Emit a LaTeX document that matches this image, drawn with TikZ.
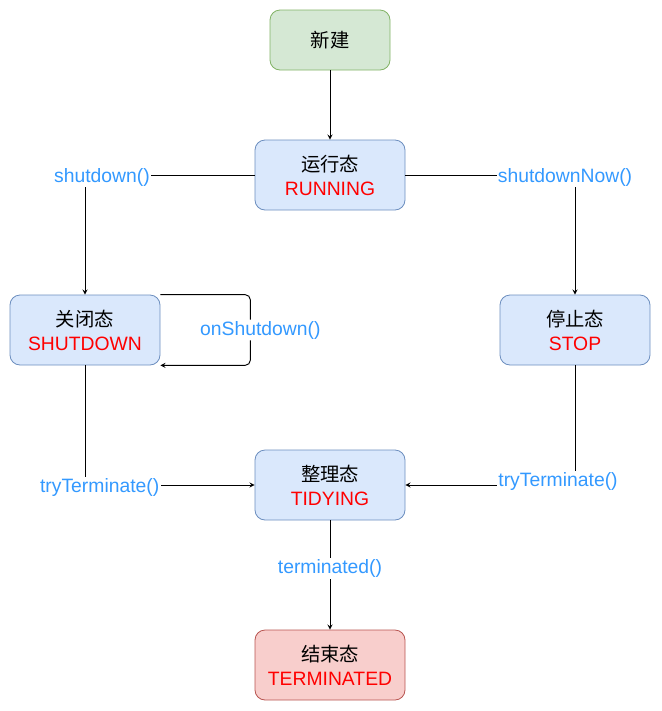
\documentclass[tikz,border=0pt]{standalone}
\usepackage{xcolor}
\usepackage{fontspec}
\setmainfont{Liberation Sans}
\newfontfamily\cjk{Noto Sans CJK SC}
\usepackage{tikz}
\usetikzlibrary{arrows,positioning,calc}

\definecolor{greenfill}{HTML}{D5E8D4}
\definecolor{greenline}{HTML}{82B366}
\definecolor{bluefill}{HTML}{DAE8FC}
\definecolor{blueline}{HTML}{6C8EBF}
\definecolor{redfill}{HTML}{F8CECC}
\definecolor{redline}{HTML}{B85450}
\definecolor{lblblue}{HTML}{3399FF}

\tikzset{
	state/.style={draw=blueline,fill=bluefill,line width=0.6pt,rounded corners=7.5pt,minimum width=112.5pt,minimum height=52.5pt,align=center,font=\fontsize{14.5}{18}\selectfont},
	flow/.style={-stealth,line width=0.7pt,black},
	lbl/.style={fill=white,inner sep=1pt,text=lblblue,font=\fontsize{14.5}{18}\selectfont}
}

\begin{document}
\begin{tikzpicture}[x=0.75pt,y=-0.75pt]
	\useasboundingbox (0,0) rectangle (661,711);
	\node[state,draw=greenline,fill=greenfill,minimum width=90pt,minimum height=45pt] (new) at (330,40) {\cjk 新建};
	\node[state] (running) at (330,175) {{\cjk 运行态}\\\textcolor{red}{RUNNING}};
	\node[state] (shutdown) at (85,330) {{\cjk 关闭态}\\\textcolor{red}{SHUTDOWN}};
	\node[state] (stop) at (575,330) {{\cjk 停止态}\\\textcolor{red}{STOP}};
	\node[state] (tidying) at (330,485) {{\cjk 整理态}\\\textcolor{red}{TIDYING}};
	\node[state,draw=redline,fill=redfill] (terminated) at (330,665) {{\cjk 结束态}\\\textcolor{red}{TERMINATED}};

	\draw[flow] (new) -- (running);
	\draw[flow] (running.west) -| node[lbl,pos=0.5,xshift=12.75pt,yshift=-1.5pt] {shutdown()} (shutdown.north);
	\draw[flow] (running.east) -| node[lbl,pos=0.5,xshift=-7.5pt,yshift=-1.5pt] {shutdownNow()} (stop.north);
	\draw[flow,rounded corners=4pt] (shutdown.north east) -- ($(shutdown.north east)+(90,0)$) |- node[lbl,pos=0.25,xshift=7.5pt] {onShutdown()} (shutdown.south east);
	\draw[flow] (shutdown.south) |- node[lbl,pos=0.5,xshift=11pt,yshift=-1.5pt] {tryTerminate()} (tidying.west);
	\draw[flow] (stop.south) |- node[lbl,pos=0.5,xshift=-12.75pt,yshift=3pt] {tryTerminate()} (tidying.east);
	\draw[flow] (tidying) -- node[lbl,pos=0.44] {terminated()} (terminated);
\end{tikzpicture}
\end{document}
